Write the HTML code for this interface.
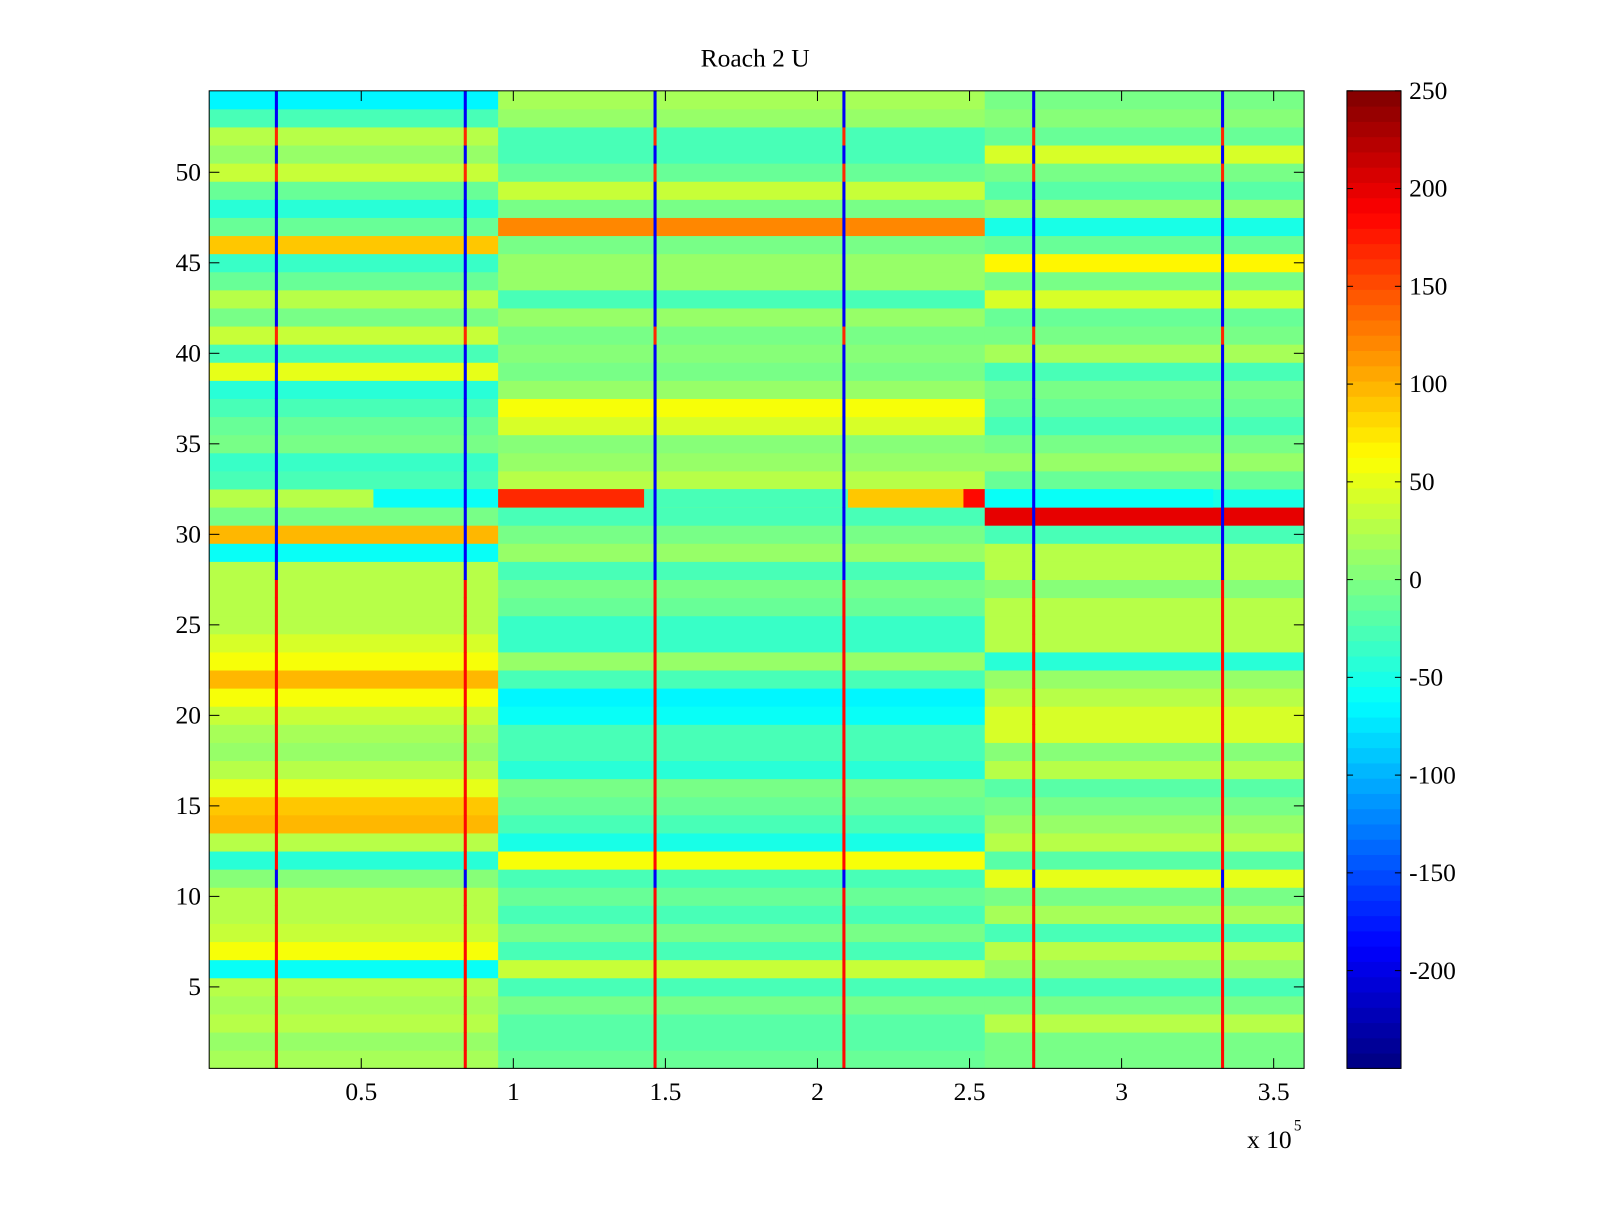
<!DOCTYPE html>
<html><head><meta charset="utf-8"><style>
html,body{margin:0;padding:0;background:#fff;}
svg text{font-family:"Liberation Serif",serif;font-size:25px;fill:#000;}
</style></head><body>
<svg id="chart" width="1600" height="1200" viewBox="0 0 1568 1176" preserveAspectRatio="none" xmlns="http://www.w3.org/2000/svg">
<rect width="1568" height="1176" fill="#fff"/>
<text x="740" y="65" text-anchor="middle">Roach 2 U</text>
<g id="cells"></g>
<g id="axes"></g>
<g id="cbar"></g>
</svg>
<script>
// segment boundaries along x (samples)
const segEdges = [0, 95000, 255000, 360000];
// values per row (rows 1..54), columns = segments A,B,C
const rowValues = [
[20,-10,-5],[15,-20,-5],[25,-20,25],[20,-5,0],[30,-25,-25],[-55,35,10],[55,-25,25],[35,0,-30],[30,-25,20],[25,-10,0],
[5,-25,50],[-45,55,-20],[30,-50,25],[95,-30,15],[90,-10,0],[50,0,-20],[30,-40,30],[15,-25,5],[20,-30,40],[35,-55,40],
[55,-65,25],[95,-30,15],[60,15,-45],[45,-35,25],[30,-35,30],[25,-15,30],[25,0,5],[25,-30,30],[-55,15,30],[100,0,-30],
[0,-25,200],[30,30,-50],[-30,25,-10],[-35,15,10],[0,5,0],[-15,45,-25],[-30,55,-10],[-45,15,0],[50,-5,-30],[-25,5,20],
[35,0,-5],[0,15,-15],[25,-30,40],[-15,15,0],[-35,10,70],[90,0,-10],[-15,120,-50],[-40,0,15],[-10,35,-20],[35,-10,0],
[10,-30,45],[30,-25,-10],[-30,15,5],[-70,20,0]
];
// overrides: row, x start, x end, value
const overRows = [32,32,32,32,32,32];
const overX0 = [54000,95000,143000,210000,248000,255000];
const overX1 = [95000,143000,210000,248000,255000,330000];
const overVals = [-60,170,-30,90,180,-55];
// periodic spike columns
const spikeX = [22100,84200,146600,208700,271100,333200];
const spikeVals = [180,180,180,180,180,180,180,180,180,180,-190,180,180,180,180,180,180,180,180,180,
180,180,180,180,180,180,180,-190,-190,-190,-190,-190,-190,-190,-190,-190,-190,-190,-190,-190,
170,-190,-190,-190,-190,-190,-190,-190,-190,170,-190,170,-190,-190];
const xTicks = [50000,100000,150000,200000,250000,300000,350000];
const xTickLabels = ["0.5","1","1.5","2","2.5","3","3.5"];
const yTicks = [5,10,15,20,25,30,35,40,45,50];
const cTicks = [-200,-150,-100,-50,0,50,100,150,200,250];

const L=205,R=1278,T=89,B=1047, XMAX=360000, NR=54;
const CMIN=-250,CMAX=250;
function sx(v){return L+(v/XMAX)*(R-L);}
function sy(v){return B-(v-0.5)/NR*(B-T);}
function jet(v){
  let t=(v-CMIN)/(CMAX-CMIN); t=Math.max(0,Math.min(1,t));
  t=(Math.floor(t*63.999)+0.5)/64;
  const c=x=>Math.round(255*Math.max(0,Math.min(1,x)));
  return `rgb(${c(1.5-Math.abs(4*t-3))},${c(1.5-Math.abs(4*t-2))},${c(1.5-Math.abs(4*t-1))})`;
}
const NS="http://www.w3.org/2000/svg";
function mk(tag,attrs,parent){const e=document.createElementNS(NS,tag);for(const k in attrs)e.setAttribute(k,attrs[k]);parent.appendChild(e);return e;}
const cells=document.getElementById('cells');
function cell(x0,x1,row,v,name){
  const r=mk('rect',{x:sx(x0),y:sy(row+0.5),width:Math.max(0,sx(x1)-sx(x0))+0.4,height:(B-T)/NR+0.4,fill:jet(v)},cells);
  
  
}
rowValues.forEach((vals,i)=>{
  for(let s=0;s<3;s++) cell(segEdges[s],segEdges[s+1],i+1,vals[s],'cell-row'+(i+1)+'-seg'+(s+1));
});
overRows.forEach((r,i)=>cell(overX0[i],overX1[i],r,overVals[i],'cell-override-row'+r));
spikeVals.forEach((v,i)=>{
  spikeX.forEach((x,j)=>{
    const r=mk('rect',{x:sx(x)-1.5,y:sy(i+1.5),width:3,height:(B-T)/NR+0.4,fill:jet(v)},cells);
    
    
  });
});
const ax=document.getElementById('axes');
mk('rect',{x:L,y:T,width:R-L,height:B-T,fill:'none',stroke:'#000','stroke-width':1},ax);
xTicks.forEach((v,i)=>{
  const x=sx(v);
  mk('line',{x1:x,y1:B,x2:x,y2:B-10,stroke:'#000'},ax);
  mk('line',{x1:x,y1:T,x2:x,y2:T+10,stroke:'#000'},ax);
  const t=mk('text',{x:x,y:B+31,'text-anchor':'middle'},ax);t.textContent=xTickLabels[i];
  
  
});
yTicks.forEach(v=>{
  const y=sy(v);
  mk('line',{x1:L,y1:y,x2:L+10,y2:y,stroke:'#000'},ax);
  mk('line',{x1:R,y1:y,x2:R-10,y2:y,stroke:'#000'},ax);
  const t=mk('text',{x:L-8,y:y+8,'text-anchor':'end'},ax);t.textContent=String(v);
  
  
});
const ex=mk('text',{x:1222,y:1125},ax);ex.textContent='x 10';


const ex2=mk('text',{x:1268,y:1108,style:'font-size:15px'},ax);ex2.textContent='5';


// colorbar
const cb=document.getElementById('cbar');
const CL=1320,CR=1373;
function cy(v){return B-(v-CMIN)/(CMAX-CMIN)*(B-T);}
for(let k=0;k<64;k++){
  const v0=CMIN+k*(CMAX-CMIN)/64, v1=CMIN+(k+1)*(CMAX-CMIN)/64;
  const r=mk('rect',{x:CL,y:cy(v1),width:CR-CL,height:cy(v0)-cy(v1)+0.5,fill:jet((v0+v1)/2)},cb);
  
  
}
mk('rect',{x:CL,y:T,width:CR-CL,height:B-T,fill:'none',stroke:'#000'},cb);
cTicks.forEach(v=>{
  const y=cy(v);
  mk('line',{x1:CL,y1:y,x2:CL+6,y2:y,stroke:'#000'},cb);
  mk('line',{x1:CR,y1:y,x2:CR-6,y2:y,stroke:'#000'},cb);
  const t=mk('text',{x:CR+8,y:y+8},cb);t.textContent=String(v);
  
  
});
</script>
</body></html>
